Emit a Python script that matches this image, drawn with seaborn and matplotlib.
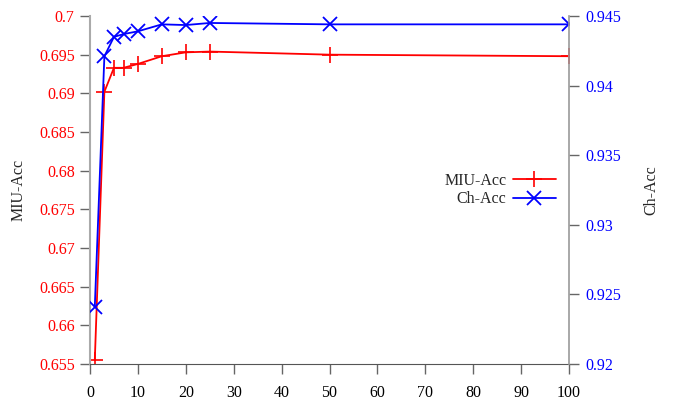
import numpy as np
import pandas as pd
import matplotlib
matplotlib.use('Agg')
import matplotlib.pyplot as plt
import seaborn as sns
from matplotlib.ticker import FuncFormatter

# values
steps = [1, 3, 5, 7, 10, 15, 20, 25, 50, 100]
miu_acc = [0.6555, 0.6902, 0.6933, 0.6933, 0.6938, 0.6948, 0.6953, 0.6954, 0.6950, 0.6948]
ch_acc = [0.9241, 0.9421, 0.9435, 0.9437, 0.9439, 0.9444, 0.94435, 0.9445, 0.9444, 0.9444]

left_ticks = [0.655, 0.66, 0.665, 0.67, 0.675, 0.68, 0.685, 0.69, 0.695, 0.7]
right_ticks = [0.92, 0.925, 0.93, 0.935, 0.94, 0.945]
x_ticks = [0, 10, 20, 30, 40, 50, 60, 70, 80, 90, 100]

df = pd.DataFrame({'step': steps, 'MIU-Acc': miu_acc, 'Ch-Acc': ch_acc})

sns.set_style('ticks')
plt.rcParams['font.family'] = ['Liberation Serif', 'DejaVu Serif']
plt.rcParams['font.size'] = 11.5

fig = plt.figure(figsize=(6.76, 4.07), dpi=100)
ax = fig.add_axes([90 / 676, 43 / 407, 479 / 676, 348 / 407])
ax2 = ax.twinx()

sns.lineplot(data=df, x='step', y='MIU-Acc', ax=ax, color='#ff0000', linewidth=1.3,
             marker='+', markersize=11, markeredgewidth=1.2, markeredgecolor='#ff0000',
             label='MIU-Acc', legend=False)
sns.lineplot(data=df, x='step', y='Ch-Acc', ax=ax2, color='#0000ff', linewidth=1.3,
             marker='x', markersize=10, markeredgewidth=1.3, markeredgecolor='#0000ff',
             label='Ch-Acc', legend=False)

fmt = FuncFormatter(lambda v, p: '%g' % round(v, 4))

ax.set_xlim(0, 100)
ax.set_ylim(0.655, 0.7)
ax2.set_ylim(0.92, 0.945)
ax.set_xticks(x_ticks)
ax.set_yticks(left_ticks)
ax2.set_yticks(right_ticks)
ax.yaxis.set_major_formatter(fmt)
ax2.yaxis.set_major_formatter(fmt)

ax.set_xlabel('')
ax.set_ylabel('MIU-Acc', fontsize=11.5, labelpad=9)
ax2.set_ylabel('Ch-Acc', fontsize=11.5, rotation=90, labelpad=16)

ax.tick_params(axis='both', which='major', bottom=True, left=True, top=False, right=False,
               direction='out', length=7, width=1, color='#666666', labelsize=11.5, pad=4)
ax2.tick_params(axis='y', which='major', right=True, left=False,
                direction='out', length=7, width=1, color='#666666', labelsize=11.5, pad=5)
ax.tick_params(axis='x', pad=8)
ax.spines['top'].set_visible(False)
ax2.spines['top'].set_visible(False)
ax.spines['left'].set_color('#aaaaaa')
ax.spines['left'].set_linewidth(1.5)
ax.spines['bottom'].set_color('#555555')
ax.spines['right'].set_visible(False)
ax2.spines['left'].set_visible(False)
ax2.spines['bottom'].set_visible(False)
ax2.spines['right'].set_color('#999999')
ax2.spines['right'].set_linewidth(1.2)
ax.tick_params(axis='y', labelcolor='#ff0000')
ax2.tick_params(axis='y', labelcolor='#0000ff')
ax.tick_params(axis='x', labelcolor='black')

h1, l1 = ax.get_legend_handles_labels()
h2, l2 = ax2.get_legend_handles_labels()
fig.legend(h1 + h2, l1 + l2, loc='center right', bbox_to_anchor=(556 / 676, 1 - 190 / 407),
           frameon=False, markerfirst=False, handlelength=2.7, handletextpad=0.4,
           labelspacing=0.15, borderpad=0, borderaxespad=0, fontsize=11.5)

fig.savefig('out.png', dpi=100)
